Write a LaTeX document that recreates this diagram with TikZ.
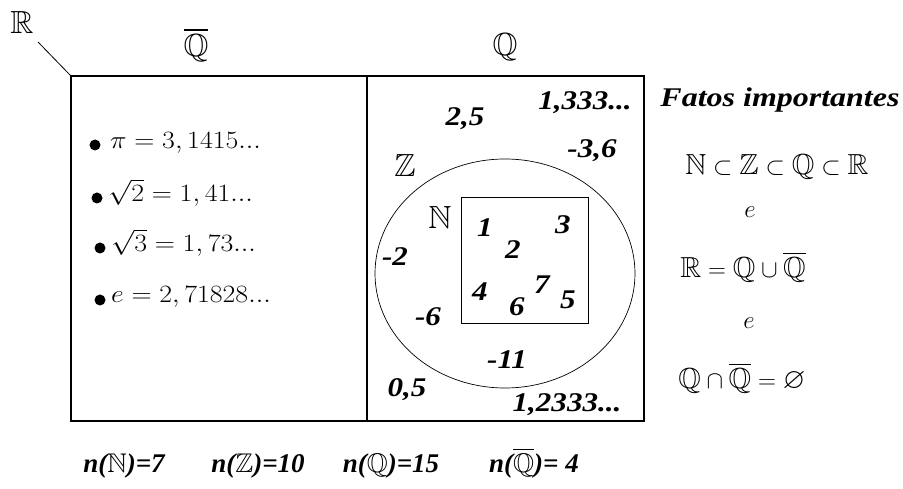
\documentclass[tikz,border=0pt]{standalone}
\usepackage{amssymb}
\usepackage{fontspec}
\setmainfont{Liberation Serif}
\begin{document}
\begin{tikzpicture}[x=1pt,y=-1pt,
  num/.style={font=\fontsize{27}{29}\selectfont\bfseries\itshape, inner sep=0, xscale=1.15, transform shape},
  cnt/.style={font=\fontsize{27}{29}\selectfont\bfseries\itshape, inner sep=0, anchor=base},
  bb/.style={font=\fontsize{32}{34}\selectfont, inner sep=0},
  lst/.style={font=\fontsize{25}{27}\selectfont, anchor=west, inner sep=0, xscale=1.12, transform shape},
  fact/.style={font=\fontsize{29}{31}\selectfont, inner sep=0},
  small/.style={font=\fontsize{23}{25}\selectfont\itshape, inner sep=0},
  frame/.style={line width=1.1pt},
  dot/.style={circle, fill=black, inner sep=0, minimum size=11pt}]
\useasboundingbox (0,0) rectangle (903,489);
% frame
\coordinate (TL) at (71,76);
\coordinate (BR) at (644,421);
\coordinate (divT) at (367,76);
\coordinate (divB) at (367,421);
\draw[frame] (TL) rectangle (BR);
\draw[frame] (divT) -- (divB);
\node[bb] (R) at (22,22) {$\mathbb{R}$};
\coordinate (Rl) at (38,42);
\draw[line width=0.8pt] (Rl) -- (TL);
\node[bb] (Qb) at (196,45) {$\overline{\mathbb{Q}}$};
\node[bb] (Q) at (505,47) {$\mathbb{Q}$};
% irrationals
\node[dot] (b1) at (95,145) {};
\node[lst] (l1) at (110,143) {$\pi=3,1415...$};
\node[dot] (b2) at (97,198) {};
\node[lst] (l2) at (108,193) {$\sqrt{2}=1,41...$};
\node[dot] (b3) at (100,248) {};
\node[lst] (l3) at (111,243) {$\sqrt{3}=1,73...$};
\node[dot] (b4) at (100,300) {};
\node[lst] (l4) at (111,297) {$e=2,71828...$};
% Z and N
\draw[line width=0.7pt] (505,273.5) ellipse [x radius=130, y radius=114.5];
\coordinate (NTL) at (461,197);
\coordinate (NBR) at (588,323);
\draw[line width=0.9pt] (NTL) rectangle (NBR);
\node[bb] (Z) at (405,165) {$\mathbb{Z}$};
\node[bb] (N) at (440,217) {$\mathbb{N}$};
% numbers
\node[num] (n25) at (465,119) {2,5};
\node[num] (n1333) at (585,103) {1,333...};
\node[num] (n36) at (592,151) {-3,6};
\node[num] (n1) at (485,228) {1};
\node[num] (n3) at (563,225) {3};
\node[num] (n2) at (513,250) {2};
\node[num] (nm2) at (395,257) {-2};
\node[num] (n4) at (480,292) {4};
\node[num] (n6) at (517,307) {6};
\node[num] (n7) at (542,285) {7};
\node[num] (n5) at (568,300) {5};
\node[num] (nm6) at (428,317) {-6};
\node[num] (nm11) at (507,360) {-11};
\node[num] (n05) at (407,390) {0,5};
\node[num] (n12333) at (567,405) {1,2333...};
% facts
\node[num, xscale=1.03] (fatos) at (780,100) {Fatos importantes};
\node[fact] (f1) at (777,167) {$\mathbb{N}\subset\mathbb{Z}\subset\mathbb{Q}\subset\mathbb{R}$};
\node[small] (e1) at (750,212) {$e$};
\node[fact] (f2) at (743,267) {$\mathbb{R}=\mathbb{Q}\cup\overline{\mathbb{Q}}$};
\node[small] (e2) at (749,323) {$e$};
\node[fact] (f3) at (742,378) {$\mathbb{Q}\cap\overline{\mathbb{Q}}=\varnothing$};
% cardinalities
\node[cnt] (cN) at (124,472) {n(\(\mathbb{N}\))=7};
\node[cnt] (cZ) at (258,472) {n(\(\mathbb{Z}\))=10};
\node[cnt] (cQ) at (391,472) {n(\(\mathbb{Q}\))=15};
\node[cnt] (cQb) at (534,472) {n(\(\overline{\mathbb{Q}}\))= 4};
\end{tikzpicture}
\end{document}
